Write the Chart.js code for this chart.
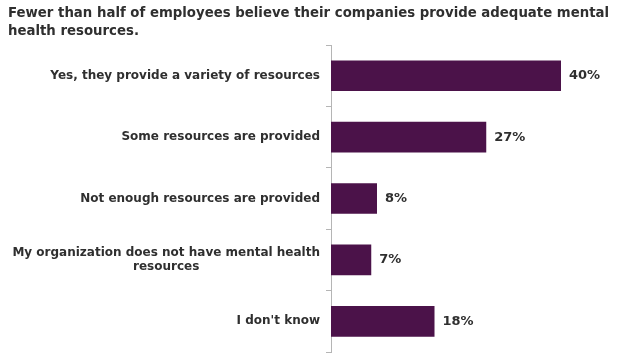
<!DOCTYPE html>
<html>
<head>
<meta charset="utf-8">
<script src="https://cdn.jsdelivr.net/npm/chart.js@4/dist/chart.umd.min.js"></script>
<style>
  html, body { margin: 0; padding: 0; background: #fff; }
  #wrap { width: 624px; height: 359px; position: relative; }
</style>
</head>
<body>
<div id="wrap"><canvas id="grafico"></canvas></div>
<script>
const titulo = [
  "Fewer than half of employees believe their companies provide adequate mental",
  "health resources."
];
const categorias = [
  ["Yes, they provide a variety of resources"],
  ["Some resources are provided"],
  ["Not enough resources are provided"],
  ["My organization does not have mental health", "resources"],
  ["I don't know"]
];
const valores = [40, 27, 8, 7, 18];

const fuente = "'DejaVu Sans', Verdana, sans-serif";
const colorTexto = "#2f2f2f";
const colorBarra = "#4b1249";

// etiquetas del eje y: bloque alineado a la derecha, lineas centradas
const etiquetasY = {
  id: "etiquetasY",
  afterDraw(chart) {
    const ctx = chart.ctx;
    const y = chart.scales.y;
    ctx.save();
    ctx.font = "bold 12px " + fuente;
    ctx.fillStyle = colorTexto;
    ctx.textAlign = "center";
    ctx.textBaseline = "middle";
    const derecha = 320;
    const alto = 14;
    categorias.forEach((lineas, i) => {
      const cy = y.getPixelForValue(i);
      let maxW = 0;
      lineas.forEach((l) => { maxW = Math.max(maxW, ctx.measureText(l).width); });
      const cx = derecha - maxW / 2;
      const y0 = cy - (lineas.length - 1) * alto / 2;
      lineas.forEach((l, j) => ctx.fillText(l, cx, y0 + j * alto));
    });
    ctx.restore();
  }
};

// porcentajes al final de cada barra
const etiquetasValor = {
  id: "etiquetasValor",
  afterDatasetsDraw(chart) {
    const ctx = chart.ctx;
    const meta = chart.getDatasetMeta(0);
    ctx.save();
    ctx.font = "bold 13px " + fuente;
    ctx.fillStyle = colorTexto;
    ctx.textAlign = "left";
    ctx.textBaseline = "middle";
    meta.data.forEach((bar, i) => {
      ctx.fillText(valores[i] + "%", bar.x + 8, bar.y);
    });
    ctx.restore();
  }
};

new Chart(document.getElementById("grafico"), {
  type: "bar",
  data: {
    labels: categorias.map((c) => c.join(" ")),
    datasets: [{
      data: valores,
      backgroundColor: colorBarra,
      borderWidth: 0,
      categoryPercentage: 1,
      barPercentage: 0.5
    }]
  },
  options: {
    indexAxis: "y",
    responsive: true,
    maintainAspectRatio: false,
    animation: false,
    layout: { padding: { left: 8, right: 5.5, top: 0, bottom: 7 } },
    plugins: {
      legend: { display: false },
      tooltip: { enabled: false },
      title: {
        display: true,
        text: titulo,
        align: "start",
        color: colorTexto,
        font: { family: fuente, size: 13.3, weight: "bold", lineHeight: 1.37 },
        padding: { top: 4, bottom: 4.6 }
      }
    },
    scales: {
      x: { display: false, min: 0, max: 50 },
      y: {
        position: "left",
        afterFit(scale) { scale.width = 323; },
        ticks: { display: false },
        border: { display: true, color: "#b5b5b5", width: 1 },
        grid: { drawOnChartArea: false, drawTicks: true, tickLength: 5, color: "#b5b5b5" }
      }
    }
  },
  plugins: [etiquetasY, etiquetasValor]
});
</script>
</body>
</html>
